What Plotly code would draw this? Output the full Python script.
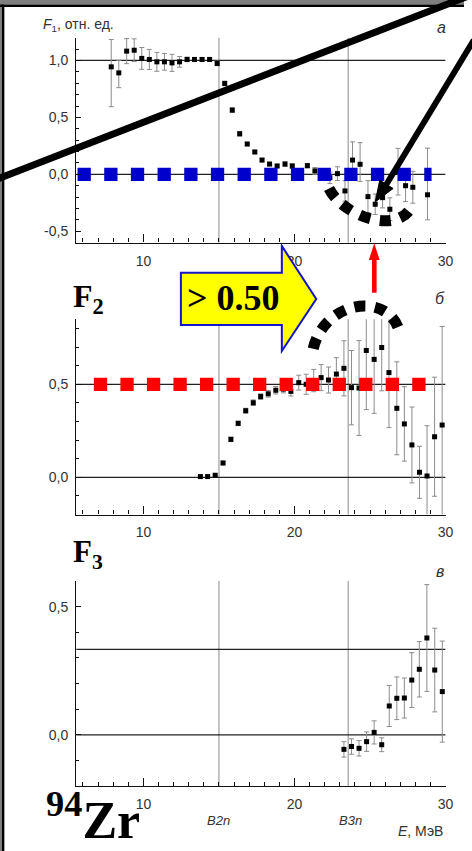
import plotly.graph_objects as go

W, H = 472, 851

# ---- F1 (panel a) ----
e1 = [7.87, 8.37, 8.89, 9.39, 9.89, 10.39, 10.89, 11.39, 11.89, 12.39, 12.89, 13.38, 13.88, 14.38,
      14.88, 15.38, 15.88, 16.37, 16.87, 17.37, 17.85, 18.35, 18.85, 19.37, 19.85, 20.35, 20.85,
      21.35, 21.85, 22.34, 22.84, 23.34, 23.84, 24.34, 24.86, 25.34, 25.83, 26.31, 26.85, 27.35,
      27.83, 28.80]
f1 = [0.944, 0.891, 1.082, 1.090, 1.018, 1.009, 0.988, 0.988, 0.979, 0.988, 1.009, 1.009, 1.009,
      1.009, 0.974, 0.798, 0.564, 0.356, 0.266, 0.196, 0.125, 0.090, 0.073, 0.090, 0.073, 0.020,
      0.076, 0.030, 0.000, -0.030, 0.006, -0.146, 0.125, 0.088, -0.196, -0.263, -0.205, -0.307,
      0.023, -0.100, -0.114, -0.180]
f1_up = [0.24, 0.11, 0.11, 0.10, 0.096, 0.088, 0.083, 0.073, 0.075, 0.047, 0.02, 0.015, 0.015,
         0.015, 0.02, 0.02, 0.02, 0.02, 0.015, 0.015, 0.015, 0.015, 0.015, 0.02, 0.02, 0.02, 0.02,
         0.03, 0.04, 0.05, 0.06, 0.09, 0.16, 0.19, 0.14, 0.09, 0.09, 0.10, 0.205, 0.14, 0.14, 0.41]
f1_dn = [0.35, 0.13, 0.11, 0.10, 0.096, 0.088, 0.083, 0.073, 0.075, 0.047, 0.02, 0.015, 0.015,
         0.015, 0.02, 0.02, 0.02, 0.02, 0.015, 0.015, 0.015, 0.015, 0.015, 0.02, 0.02, 0.02, 0.02,
         0.03, 0.04, 0.05, 0.06, 0.09, 0.175, 0.15, 0.14, 0.09, 0.09, 0.10, 0.205, 0.14, 0.14, 0.22]

# ---- F2 (panel б) ----
e2 = [13.77, 14.25, 14.75, 15.27, 15.79, 16.27, 16.77, 17.27, 17.76, 18.26, 18.76, 19.26, 19.76,
      20.28, 20.77, 21.27, 21.76, 22.25, 22.77, 23.27, 23.77, 24.27, 24.75, 25.27, 25.77, 26.25,
      26.77, 27.27, 27.77, 28.27, 28.77, 29.27, 29.77]
f2 = [0.004, 0.004, 0.011, 0.077, 0.204, 0.290, 0.358, 0.401, 0.434, 0.449, 0.468, 0.474, 0.462,
      0.509, 0.500, 0.520, 0.536, 0.523, 0.555, 0.586, 0.482, 0.480, 0.682, 0.634, 0.698, 0.563,
      0.371, 0.287, 0.174, 0.027, 0.007, 0.218, 0.281]
f2_err = [0.005, 0.005, 0.007, 0.010, 0.012, 0.012, 0.013, 0.015, 0.015, 0.018, 0.020, 0.020,
          0.025, 0.040, 0.054, 0.060, 0.070, 0.070, 0.088, 0.148, 0.200, 0.255, 0.318, 0.290,
          0.233, 0.296, 0.250, 0.200, 0.204, 0.140, 0.270, 0.320, 0.530]

# ---- F3 (panel в) ----
e3 = [23.27, 23.77, 24.27, 24.77, 25.27, 25.77, 26.27, 26.77, 27.27, 27.76, 28.26, 28.76, 29.28, 29.78]
f3 = [-0.056, -0.045, -0.052, -0.026, 0.010, -0.038, 0.113, 0.143, 0.144, 0.214, 0.256, 0.378,
      0.253, 0.169]
f3_err = [0.030, 0.030, 0.030, 0.038, 0.045, 0.027, 0.080, 0.083, 0.078, 0.107, 0.108, 0.208,
          0.163, 0.197]

# thresholds and reference levels
x_range = [5.55, 30]
thresholds = [15.0, 23.55]
threshold_labels = ["B2n", "B3n"]
x_ticks = [10, 20, 30]
x_ticktext = ["10", "20", "30"]

f1_range = [-0.6, 1.2]
f1_ticks = [-0.5, 0.0, 0.5, 1.0]
f1_ticktext = ["-0,5", "0,0", "0,5", "1,0"]
f1_hlines = [1.0, 0.0]

f2_range = [-0.2, 0.85]
f2_ticks = [0.0, 0.5]
f2_ticktext = ["0,0", "0,5"]
f2_hlines = [0.5, 0.0]

f3_range = [-0.2, 0.6]
f3_ticks = [0.0, 0.5]
f3_ticktext = ["0,0", "0,5"]
f3_hlines = [1 / 3, 0.0]

# dotted reference levels (value, x-start, x-end)
blue_level = (0.0, 5.64, 29.07)
red_level = (0.5, 6.72, 29.26)


def fx(px):
    return px / W


def fy(py):
    return 1 - py / H


def P(px, py):
    return f"{fx(px):.5f},{fy(py):.5f}"


SANS = "Liberation Sans, Arial, sans-serif"
SERIF = "Liberation Serif, Times New Roman, serif"
INK = "#333333"

fig = go.Figure()

panels = [
    ("x", "y", e1, f1, dict(type="data", array=f1_up, arrayminus=f1_dn, symmetric=False)),
    ("x2", "y2", e2, f2, dict(type="data", array=f2_err)),
    ("x3", "y3", e3, f3, dict(type="data", array=f3_err)),
]
for xa, ya, xs, ys, err in panels:
    err.update(color="#8c8c8c", thickness=1, width=2.5)
    fig.add_trace(go.Scatter(
        x=xs, y=ys, xaxis=xa, yaxis=ya, mode="markers",
        marker=dict(symbol="square", size=5, color="black"),
        error_y=err, showlegend=False, hoverinfo="skip", cliponaxis=False))

# thick dotted level lines
lvl, xa0, xa1 = blue_level
fig.add_trace(go.Scatter(x=[xa0, xa1], y=[lvl, lvl], xaxis="x", yaxis="y", mode="lines",
                         line=dict(color="#0000CC", width=13.3, dash="13.3px,13.37px"),
                         showlegend=False, hoverinfo="skip"))
lvl, xa0, xa1 = red_level
fig.add_trace(go.Scatter(x=[xa0, xa1], y=[lvl, lvl], xaxis="x2", yaxis="y2", mode="lines",
                         line=dict(color="#FF0000", width=13.3, dash="13.3px,13.23px"),
                         showlegend=False, hoverinfo="skip"))

xdom = [fx(77.5), fx(453.3)]
ydoms = [[fy(242.6), fy(37.7)], [fy(514.5), fy(319.2)], [fy(786.3), fy(581.0)]]
yranges = [f1_range, f2_range, f3_range]
yticks = [(f1_ticks, f1_ticktext), (f2_ticks, f2_ticktext), (f3_ticks, f3_ticktext)]

axis_common = dict(showline=True, linecolor="#111111", linewidth=1.3, ticks="inside",
                   tickcolor="#111111", tickwidth=1, showgrid=False, zeroline=False,
                   tickfont=dict(family=SANS, size=14, color=INK))

layout = dict(width=W, height=H, margin=dict(l=0, r=0, t=0, b=0),
              plot_bgcolor="white", paper_bgcolor="white", showlegend=False)
for i in range(3):
    s = "" if i == 0 else str(i + 1)
    layout["xaxis" + s] = dict(axis_common, domain=xdom, range=x_range, anchor="y" + s,
                               tickmode="array", tickvals=x_ticks, ticktext=x_ticktext,
                               ticklen=8, ticklabelstandoff=5,
                               minor=dict(ticks="inside", dtick=1, tick0=0, ticklen=4,
                                          tickcolor="#111111", tickwidth=1))
    layout["yaxis" + s] = dict(axis_common, domain=ydoms[i], range=yranges[i], anchor="x" + s,
                               tickmode="array", tickvals=yticks[i][0], ticktext=yticks[i][1],
                               ticklen=5, ticklabelstandoff=4,
                               minor=dict(ticks="inside", dtick=0.1, tick0=0, ticklen=3,
                                          tickcolor="#111111", tickwidth=1))
fig.update_layout(**layout)

shapes = []
# threshold verticals and horizontal reference lines
for i, hl in enumerate([f1_hlines, f2_hlines, f3_hlines]):
    s = "" if i == 0 else str(i + 1)
    for t in thresholds:
        shapes.append(dict(type="line", xref="x" + s, yref="y" + s + " domain", x0=t, x1=t,
                           y0=0, y1=1, layer="below", line=dict(color="#8a8a8a", width=1)))
    for h in hl:
        shapes.append(dict(type="line", xref="x" + s, yref="y" + s, x0=x_range[0], x1=x_range[1],
                           y0=h, y1=h, layer="below", line=dict(color="#222222", width=1.3)))

# frame
shapes += [
    dict(type="rect", xref="paper", yref="paper", x0=0, x1=1, y0=fy(4.5), y1=1,
         line=dict(width=0), fillcolor="#7f7f7f"),
    dict(type="rect", xref="paper", yref="paper", x0=0, x1=fx(1.7), y0=0, y1=1,
         line=dict(width=0), fillcolor="#7f7f7f"),
    dict(type="line", xref="paper", yref="paper", x0=0, x1=1, y0=fy(5.8), y1=fy(5.8),
         line=dict(color="black", width=2.6)),
    dict(type="line", xref="paper", yref="paper", x0=fx(3.1), x1=fx(3.1), y0=0, y1=fy(4.5),
         line=dict(color="black", width=2.6)),
]

# long diagonal stroke
shapes.append(dict(type="line", xref="paper", yref="paper", x0=fx(-3), y0=fy(179.1),
                   x1=fx(476), y1=fy(-3.8), line=dict(color="black", width=7)))

# black pointer arrow
shapes.append(dict(type="line", xref="paper", yref="paper", x0=fx(482), y0=fy(40),
                   x1=fx(393.1), y1=fy(184.3), line=dict(color="black", width=6)))
shapes.append(dict(type="path", xref="paper", yref="paper",
                   path=f"M{P(381.7, 202)} L{P(399.9, 188.5)} L{P(386.3, 180.1)} Z",
                   fillcolor="black", line=dict(color="black", width=1)))

# dashed ellipse arcs
shapes.append(dict(type="path", xref="paper", yref="paper",
                   path=f"M{P(334.7, 188.5)} C{P(348, 215)} {P(400, 234)} {P(417, 209.5)}",
                   line=dict(color="black", width=11, dash="11px,9.7px")))
shapes.append(dict(type="path", xref="paper", yref="paper",
                   path=f"M{P(318.6, 348.8)} C{P(330, 300)} {P(397, 290)} {P(407, 334)}",
                   line=dict(color="black", width=11, dash="11px,9.6px")))

# red arrow
shapes.append(dict(type="rect", xref="paper", yref="paper", x0=fx(378.4), x1=fx(383.1),
                   y0=fy(292.7), y1=fy(259), fillcolor="#FF0000", line=dict(width=0)))
shapes.append(dict(type="path", xref="paper", yref="paper",
                   path=f"M{P(380.7, 243.3)} L{P(386.2, 260)} L{P(375.2, 260)} Z",
                   fillcolor="#FF0000", line=dict(width=0)))

# yellow block arrow
shapes.append(dict(type="path", xref="paper", yref="paper",
                   path=(f"M{P(184, 272.7)} L{P(286.7, 272.7)} L{P(286.7, 246)} L{P(321.7, 299)} "
                         f"L{P(286.7, 351)} L{P(286.7, 325)} L{P(184, 325)} Z"),
                   fillcolor="#FFFF00", line=dict(color="#1414C8", width=2)))

fig.update_layout(shapes=shapes)

ann = []


def text(px, py, s, size, family=SANS, color=INK, xanchor="center", yanchor="middle"):
    ann.append(dict(xref="paper", yref="paper", x=fx(px), y=fy(py), text=s, showarrow=False,
                    xanchor=xanchor, yanchor=yanchor,
                    font=dict(family=family, size=size, color=color)))


text(42, 25, "<i>F</i><sub>1</sub>, отн. ед.", 14, xanchor="left")
text(449, 27.5, "<i>a</i>", 16)
text(448, 299, "<i>б</i>", 16)
text(448, 571, "<i>в</i>", 16)
text(72, 298, "<b>F<sub>2</sub></b>", 32, family=SERIF, color="black", xanchor="left")
text(72, 554, "<b>F<sub>3</sub></b>", 31, family=SERIF, color="black", xanchor="left")
text(45, 816, "<b><sup>94</sup>Zr</b>", 52, family=SERIF, color="black", xanchor="left")
text(237.5, 298, "<b>&gt; 0.50</b>", 36, family=SERIF, color="black")
text(222.5, 820.5, "<i>B2n</i>", 13)
text(357, 820.5, "<i>B3n</i>", 13)
text(453, 831, "<i>E</i>, МэВ", 14, xanchor="right")

fig.update_layout(annotations=ann)

fig.write_html("out.html")
